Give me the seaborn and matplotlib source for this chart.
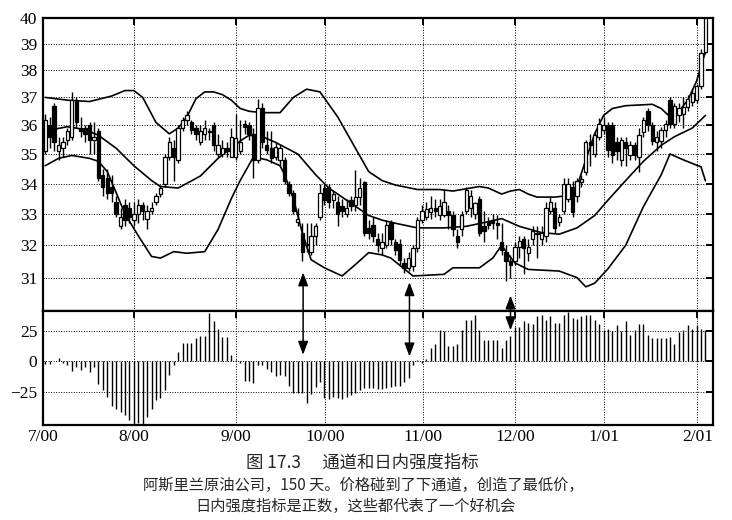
import matplotlib
matplotlib.use("Agg")
import matplotlib.pyplot as plt
from matplotlib.patches import ConnectionPatch, ArrowStyle
from matplotlib.ticker import NullLocator, FixedLocator, FixedFormatter
import numpy as np
import pandas as pd
import seaborn as sns

# ---- data, one candle per trading day ----
opens = [35.1, 36.0, 36.7, 35.1, 35.2, 35.5, 35.6, 36.9, 35.9, 35.9,
         36.0, 35.5, 35.8, 34.3, 34.2, 33.9, 33.4, 32.6, 33.3, 33.2,
         32.8, 33.0, 33.3, 32.85, 33.1, 33.4, 33.65, 34.0, 34.9, 35.2,
         34.8, 35.9, 36.2, 36.1, 35.9, 35.4, 35.7, 35.8, 36.0, 35.0,
         35.0, 35.2, 34.9, 34.9, 35.1, 36.05, 36.0, 35.7, 34.8, 36.6,
         35.3, 35.2, 34.9, 34.8, 34.8, 34.0, 33.7, 32.75, 32.4, 32.0,
         31.8, 32.3, 32.9, 33.85, 33.9, 33.45, 33.4, 33.25, 33.0, 33.45,
         33.3, 33.55, 34.05, 32.55, 32.65, 32.2, 31.9, 32.0, 32.7, 32.1,
         32.05, 31.45, 31.3, 31.35, 31.9, 32.8, 32.9, 33.05, 33.2, 32.95,
         32.95, 33.1, 32.95, 32.3, 32.5, 33.1, 33.2, 33.0, 33.5, 32.6,
         32.75, 32.8, 32.7, 32.1, 31.8, 31.5, 31.5, 31.95, 32.2, 31.75,
         32.2, 32.4, 32.2, 32.3, 33.1, 33.2, 32.75, 33.1, 33.5, 33.9,
         33.6, 34.05, 34.4, 35.4, 35.0, 35.6, 35.85, 36.0, 36.0, 35.4,
         34.8, 35.4, 34.95, 35.3, 34.9, 35.75, 36.5, 36.0, 35.4, 35.45,
         35.85, 36.9, 36.05, 36.35, 36.4, 36.65, 36.85, 36.9, 37.4, 38.7]
highs = [36.4, 36.3, 36.8, 35.6, 35.6, 35.9, 37.2, 37.0, 36.3, 36.0,
         36.1, 36.1, 35.9, 34.5, 34.5, 34.3, 33.6, 33.2, 33.5, 33.4,
         33.4, 33.5, 33.4, 33.3, 33.4, 33.7, 33.95, 35.0, 35.6, 35.5,
         36.0, 36.3, 36.5, 36.2, 36.0, 36.0, 36.2, 35.9, 36.1, 35.7,
         35.5, 35.4, 35.9, 36.4, 36.2, 36.2, 36.1, 35.9, 36.95, 36.8,
         35.8, 35.8, 35.4, 35.3, 34.9, 34.1, 33.8, 33.2, 32.7, 32.7,
         32.7, 32.7, 34.0, 34.0, 34.0, 33.8, 33.6, 33.5, 33.5, 33.6,
         34.45, 34.2, 34.1, 32.8, 32.9, 32.4, 32.4, 32.8, 32.8, 32.2,
         32.2, 31.6, 31.8, 32.0, 32.9, 33.3, 33.4, 33.6, 33.5, 33.5,
         33.8, 33.3, 33.1, 32.5, 33.1, 33.9, 33.8, 33.4, 33.6, 33.1,
         32.9, 33.0, 32.95, 32.7, 32.0, 31.7, 32.1, 32.3, 32.3, 32.2,
         32.6, 32.6, 32.6, 33.4, 33.6, 33.4, 33.0, 34.2, 34.2, 34.1,
         34.2, 34.3, 35.5, 35.7, 35.8, 36.25, 36.3, 36.1, 36.1, 35.6,
         35.6, 35.6, 35.45, 35.4, 35.9, 36.3, 36.6, 36.1, 35.8, 35.95,
         36.2, 37.0, 36.8, 36.8, 37.0, 37.1, 37.3, 37.5, 38.8, 40.2]
lows = [35.0, 35.2, 35.1, 34.8, 34.9, 35.3, 35.5, 35.9, 35.6, 35.4,
        35.0, 35.0, 34.1, 33.6, 33.5, 33.4, 32.9, 32.5, 32.6, 32.7,
        32.6, 32.7, 32.8, 32.5, 33.0, 33.3, 33.55, 33.9, 34.8, 34.1,
        34.7, 35.8, 36.0, 35.7, 35.5, 35.3, 35.5, 35.5, 35.1, 34.9,
        34.9, 34.9, 34.9, 34.8, 35.0, 35.7, 35.5, 34.2, 34.7, 35.2,
        35.0, 34.7, 34.8, 34.6, 34.0, 33.6, 33.0, 32.6, 31.5, 31.8,
        31.7, 32.0, 32.8, 33.3, 33.2, 33.2, 32.6, 32.9, 32.9, 33.1,
        33.1, 33.3, 32.3, 32.2, 32.1, 31.8, 31.7, 31.9, 32.0, 31.7,
        31.4, 31.15, 31.2, 31.2, 31.8, 32.7, 32.8, 32.85, 32.9, 32.8,
        32.9, 32.5, 32.3, 31.9, 32.3, 33.0, 32.9, 32.85, 32.3, 32.1,
        32.5, 32.5, 32.2, 31.7, 30.9, 31.0, 31.4, 31.6, 31.1, 31.5,
        32.0, 31.6, 32.0, 32.1, 33.0, 32.4, 32.6, 33.0, 33.4, 32.9,
        33.4, 33.9, 34.3, 34.6, 34.9, 35.5, 35.7, 34.9, 34.7, 34.8,
        34.6, 34.6, 34.8, 34.8, 34.4, 35.6, 35.8, 35.3, 35.1, 35.2,
        35.6, 35.9, 35.9, 36.1, 35.9, 36.5, 36.7, 36.8, 37.3, 38.6]
closes = [36.2, 35.6, 35.4, 35.3, 35.4, 35.8, 36.9, 36.1, 35.8, 35.7,
          35.5, 35.6, 34.2, 33.9, 33.7, 33.7, 33.0, 32.9, 32.8, 32.9,
          33.0, 33.3, 33.1, 33.1, 33.2, 33.6, 33.85, 34.9, 35.4, 34.9,
          35.9, 36.2, 36.35, 35.85, 35.7, 35.8, 35.9, 35.75, 35.3, 35.3,
          35.2, 35.1, 35.6, 35.55, 35.4, 35.95, 35.7, 34.8, 36.6, 35.4,
          35.15, 34.85, 35.25, 35.2, 34.1, 33.7, 33.1, 32.85, 31.8, 32.05,
          32.3, 32.6, 33.7, 33.45, 33.4, 33.65, 33.0, 33.1, 33.2, 33.25,
          33.55, 33.85, 32.4, 32.4, 32.3, 32.0, 32.1, 32.65, 32.2, 31.85,
          31.55, 31.3, 31.6, 31.9, 32.8, 33.1, 33.15, 33.2, 33.1, 33.25,
          33.4, 32.95, 32.5, 32.1, 32.95, 33.8, 33.6, 33.35, 32.4, 32.45,
          32.65, 32.7, 32.65, 31.85, 31.5, 31.4, 31.95, 32.15, 31.9, 31.95,
          32.45, 32.35, 32.4, 33.2, 33.4, 32.55, 32.9, 34.0, 34.0, 33.05,
          34.1, 34.15, 35.4, 35.3, 35.65, 36.05, 36.0, 35.15, 34.95, 35.1,
          35.5, 35.2, 35.3, 34.95, 35.65, 36.2, 36.0, 35.45, 35.6, 35.85,
          36.05, 36.05, 36.7, 36.6, 36.65, 36.95, 37.15, 37.4, 38.65, 40.0]

# intraday intensity, one bar per day
intensity = [-2, -2, 0.5, 2.5, -1, -3, -8, -5, -7, -5,
             -9, -5, -19, -24, -29, -37, -39, -42, -44, -48,
             -52, -51, -52, -46, -39, -32, -30, -24, -11, -3,
             8, 15, 15, 15, 19, 21, 21, 40, 33, 27,
             20, 20, 5, 1, -1, -16, -16, -18, -3, -3,
             -6, -9, -12, -11, -12, -20, -26, -26, -26, -34,
             -27, -21, -17, -30, -31, -29, -30, -31, -29, -28,
             -26, -24, -22, -22, -22, -23, -23, -22, -21, -20,
             -20, -17, -14, -3, 1, -1, 2, 11, 14, 26,
             25, 13, 13, 14, 26, 34, 34, 38, 26, 18,
             18, 18, 18, 11, 18, 21, 28, 28, 33, 32,
             31, 37, 38, 34, 37, 32, 32, 38, 41, 36,
             35, 37, 38, 38, 34, 31, 26, 27, 25, 30,
             25, 33, 22, 26, 31, 31, 22, 19, 19, 19,
             19, 20, 14, 24, 26, 30, 27, 30, 27, 26]

# channel lines (day, price)
upper_days = [0, 5, 10, 15, 18, 20, 22, 25, 28, 30, 32, 34, 36, 38, 40, 42,
              44, 46, 49, 53, 56, 59, 62, 66, 70, 73, 76, 79, 84, 89, 92,
              96, 98, 100, 103, 105, 107, 109, 111, 115, 118, 120, 122, 124,
              126, 128, 131, 137, 139, 141, 143, 145, 147, 149]
upper_vals = [37.0, 36.9, 36.85, 37.05, 37.25, 37.25, 37.0, 36.1, 35.7, 35.9,
              36.3, 36.95, 37.2, 37.2, 37.1, 36.9, 36.6, 36.5, 36.45, 36.45,
              37.0, 37.3, 37.2, 36.3, 35.2, 34.4, 34.1, 33.95, 33.8, 33.8,
              33.75, 33.85, 33.9, 33.85, 33.65, 33.75, 33.8, 33.65, 33.55,
              33.55, 33.6, 33.9, 34.8, 35.7, 36.35, 36.6, 36.7, 36.75, 36.6,
              36.3, 36.5, 36.9, 37.6, 38.7]
middle_days = [0, 5, 9, 12, 16, 20, 24, 26, 30, 35, 39, 44, 46, 49, 52, 57,
               61, 64, 67, 70, 73, 76, 79, 84, 90, 95, 100, 103, 107, 112,
               116, 120, 124, 127, 131, 135, 139, 142, 146, 149]
middle_vals = [35.8, 35.95, 35.85, 35.65, 35.2, 34.6, 34.1, 33.9, 33.85, 34.25,
               34.85, 35.45, 35.65, 35.6, 35.4, 35.0, 34.3, 33.85, 33.55, 33.25,
               32.95, 32.8, 32.7, 32.55, 32.55, 32.6, 32.75, 32.85, 32.6, 32.4,
               32.35, 32.55, 32.95, 33.45, 34.1, 34.75, 35.3, 35.6, 35.9, 36.35]
lower_days = [0, 3, 6, 10, 12, 14, 16, 18, 21, 24, 26, 29, 32, 36, 39, 42,
              44, 47, 50, 53, 54, 56, 58, 60, 63, 67, 70, 73, 76, 78, 82,
              83, 90, 92, 98, 101, 103, 104, 106, 109, 116, 120, 122, 124,
              127, 131, 135, 139, 141, 144, 148, 149]
lower_vals = [34.6, 34.85, 34.95, 34.85, 34.75, 34.4, 33.7, 33.0, 32.3, 31.65,
              31.6, 31.8, 31.75, 31.8, 32.5, 33.5, 34.1, 34.9, 34.8, 34.6,
              34.3, 33.5, 32.4, 31.55, 31.3, 31.05, 31.4, 31.77, 31.7, 31.6,
              31.16, 31.05, 31.1, 31.3, 31.3, 31.6, 32.0, 31.8, 31.45, 31.25,
              31.2, 31.0, 30.72, 30.83, 31.27, 32.0, 33.24, 34.29, 35.0, 34.8,
              34.56, 34.09]

# arrows: day, price end (top panel), intensity end (bottom panel)
arrow_days = [58.2, 82.2, 105.0]
arrow_top = [31.16, 30.86, 30.46]
arrow_bottom = [5.4, 4.0, 25.6]

month_pos = [-0.5, 20, 43, 63.2, 85.2, 106, 126, 147.2]
month_labels = ["7/00", "8/00", "9/00", "10/00", "11/00", "12/00", "1/01", "2/01"]
price_ticks = [31, 32, 33, 34, 35, 36, 37, 38, 39, 40]
ii_ticks = [-25, 0, 25]

caption = ["图 17.3　 通道和日内强度指标",
           "阿斯里兰原油公司，150 天。价格碰到了下通道，创造了最低价，",
           "日内强度指标是正数，这些都代表了一个好机会"]

# ---- figure ----
sns.set_style("white")
plt.rcParams["font.family"] = ["Liberation Serif", "DejaVu Serif"]
cjk = ["Noto Sans CJK SC", "DejaVu Sans"]

df = pd.DataFrame({"day": np.arange(len(closes)), "open": opens, "high": highs,
                   "low": lows, "close": closes, "ii": intensity})

fig = plt.figure(figsize=(7.32, 5.2), dpi=100)
ax1 = fig.add_axes([43 / 732, 1 - 311 / 520, 670 / 732, 293 / 520])
ax2 = fig.add_axes([43 / 732, 1 - 425 / 520, 670 / 732, 114 / 520], sharex=ax1)

# candles
ax1.vlines(df["day"], df["low"], df["high"], color="black", lw=1.0, zorder=3)
body_lo = np.minimum(df["open"], df["close"])
body_h = np.maximum(np.abs(df["close"] - df["open"]), 0.04)
face = np.where(df["close"] < df["open"], "black", "white")
ax1.bar(df["day"], body_h, bottom=body_lo, width=0.75, color=face,
        edgecolor="black", linewidth=0.9, zorder=4)

# channel lines
for d, v in [(upper_days, upper_vals), (middle_days, middle_vals), (lower_days, lower_vals)]:
    sns.lineplot(x=d, y=v, ax=ax1, color="black", linewidth=1.2,
                 estimator=None, sort=False, zorder=2)

ax1.set_yscale("log")
ax1.set_ylim(30.0, 40.0)
ax1.yaxis.set_major_locator(FixedLocator(price_ticks))
ax1.yaxis.set_major_formatter(FixedFormatter([str(t) for t in price_ticks]))
ax1.yaxis.set_minor_locator(NullLocator())

# intraday intensity bars (thin vertical strokes)
ax2.vlines(df["day"], 0, df["ii"], color="black", lw=1.0, zorder=3)
ax2.set_ylim(-52.5, 41.5)
ax2.set_yticks(ii_ticks)
ax2.set_yticklabels(["\u221225", "0", "25"])

ax1.set_xlim(-0.5, 150.7)
ax2.set_xticks(month_pos)
ax2.set_xticklabels(month_labels)
ax1.tick_params(labelbottom=False)

for ax in (ax1, ax2):
    ax.set_xlabel("")
    ax.set_ylabel("")
    ax.grid(True, color="black", linestyle=(0, (1, 1.6)), linewidth=0.7)
    ax.set_axisbelow(True)
    for s in ax.spines.values():
        s.set_linewidth(1.6)
        s.set_color("black")
    ax.tick_params(axis="both", which="major", direction="in", length=5,
                   width=1.4, top=True, right=True, labelsize=12.5,
                   colors="black", pad=3)
    ax.tick_params(axis="y", pad=4)

for d, t, b in zip(arrow_days, arrow_top, arrow_bottom):
    con = ConnectionPatch(xyA=(d, t), coordsA=ax1.transData,
                          xyB=(d, b), coordsB=ax2.transData,
                          arrowstyle=ArrowStyle("<|-|>", head_length=0.8, head_width=0.3),
                          mutation_scale=10, lw=1.1, color="black", zorder=10)
    fig.add_artist(con)

fig.text(362 / 732, 1 - 463 / 520, caption[0], family=cjk, fontsize=12.5,
         ha="center", va="center")
fig.text(363 / 732, 1 - 485 / 520, caption[1], family=cjk, fontsize=11,
         ha="center", va="center")
fig.text(355 / 732, 1 - 506 / 520, caption[2], family=cjk, fontsize=11,
         ha="center", va="center")

fig.savefig("out.png", dpi=100)
